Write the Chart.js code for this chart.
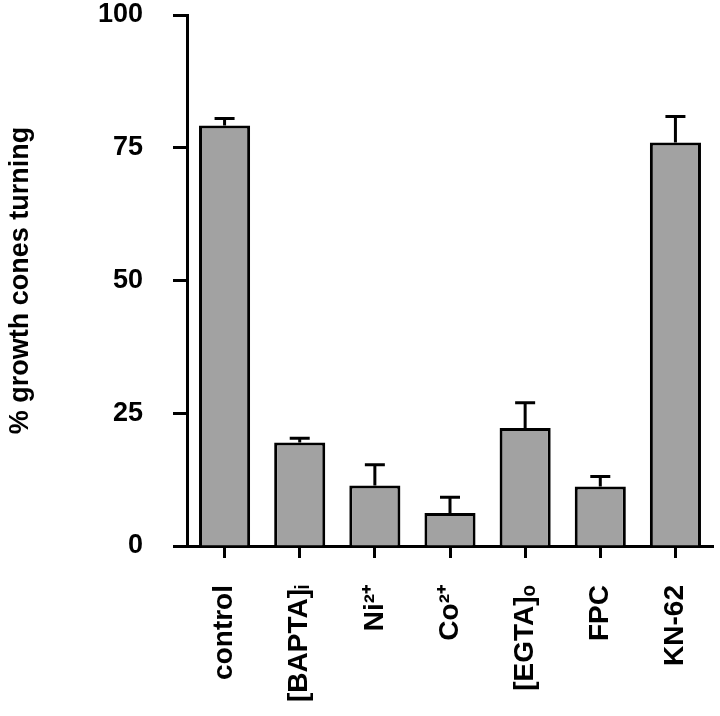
<!DOCTYPE html>
<html>
<head>
<meta charset="utf-8">
<title>Growth cone turning</title>
<script src="https://cdn.jsdelivr.net/npm/chart.js@4/dist/chart.umd.min.js"></script>
<style>
    html, body { margin: 0; padding: 0; background: #ffffff; }
    #chartBox { width: 720px; height: 716px; }
</style>
</head>
<body>
<div id="chartBox"><canvas id="turningChart" width="720" height="716"></canvas></div>
<script>

    // Conditions along the x axis (sub/superscripts as unicode characters)
    var conditions = ['control', '[BAPTA]\u1D62', 'Ni\u00B2\u207A', 'Co\u00B2\u207A', '[EGTA]\u2092', 'FPC', 'KN-62'];

    // Mean % of growth cones turning
    var turningMeans = [79.2, 19.5, 11.4, 6.2, 22.2, 11.2, 76.0];

    // Upper error (SEM) for each bar
    var turningErrors = [1.3, 0.8, 3.9, 3.0, 4.8, 1.9, 4.9];

    var yTicks = [0, 25, 50, 75, 100];

    var fontFamily = '"Liberation Sans", Arial, Helvetica, sans-serif';

    /**
     * Draws the one-sided error bars (stem + cap) above each bar.
     */
    var errorBarPlugin = {
        id: 'errorBars',
        afterDatasetsDraw: function (chart) {
            var ctx = chart.ctx;
            var yScale = chart.scales.y;
            var meta = chart.getDatasetMeta(0);

            ctx.save();
            ctx.strokeStyle = '#000000';
            ctx.lineWidth = 3;
            ctx.lineCap = 'butt';

            meta.data.forEach(function (bar, i) {
                var x = bar.x;
                var yTop = yScale.getPixelForValue(turningMeans[i]);
                var yErr = yScale.getPixelForValue(turningMeans[i] + turningErrors[i]);

                ctx.beginPath();
                ctx.moveTo(x, yTop);
                ctx.lineTo(x, yErr);
                ctx.moveTo(x - 10, yErr);
                ctx.lineTo(x + 10, yErr);
                ctx.stroke();
            });

            ctx.restore();
        }
    };

    var config = {
        type: 'bar',
        data: {
            labels: conditions,
            datasets: [
                {
                    data: turningMeans,
                    backgroundColor: '#a2a2a2',
                    borderColor: '#000000',
                    borderWidth: 3,
                    categoryPercentage: 1.0,
                    barPercentage: 0.68
                }
            ]
        },
        options: {
            responsive: false,
            animation: false,
            devicePixelRatio: 1,
            layout: {
                padding: { top: 15, right: 7, bottom: 0, left: 0 }
            },
            plugins: {
                legend: { display: false },
                title: { display: false },
                tooltip: { enabled: false }
            },
            scales: {
                x: {
                    offset: true,
                    // fixed axis height; drop the automatic label padding
                    afterFit: function (scale) {
                        scale.height = 170;
                        scale.paddingLeft = 0;
                        scale.paddingRight = 0;
                    },
                    border: { display: true, color: '#000000', width: 3 },
                    grid: {
                        offset: false,
                        drawOnChartArea: false,
                        drawTicks: true,
                        tickLength: 12,
                        tickWidth: 3,
                        color: '#000000'
                    },
                    ticks: {
                        minRotation: 90,
                        maxRotation: 90,
                        autoSkip: false,
                        padding: 27,
                        color: '#000000',
                        font: { family: fontFamily, size: 28, weight: 'bold' }
                    }
                },
                y: {
                    min: 0,
                    max: 100,
                    afterFit: function (scale) {
                        scale.width = 187;
                        scale.paddingTop = 0;
                        scale.paddingBottom = 0;
                    },
                    afterBuildTicks: function (scale) {
                        scale.ticks = yTicks.map(function (v) { return { value: v }; });
                    },
                    border: { display: true, color: '#000000', width: 3 },
                    grid: {
                        drawOnChartArea: false,
                        drawTicks: true,
                        tickLength: 14,
                        tickWidth: 3,
                        color: '#000000'
                    },
                    ticks: {
                        padding: 30,
                        color: '#000000',
                        font: { family: fontFamily, size: 27, weight: 'bold', lineHeight: 1 }
                    },
                    title: {
                        display: true,
                        text: '% growth cones turning',
                        color: '#000000',
                        padding: { top: 4, bottom: 0 },
                        font: { family: fontFamily, size: 27, weight: 'bold' }
                    }
                }
            }
        },
        plugins: [errorBarPlugin]
    };

    var ctx = document.getElementById('turningChart').getContext('2d');
    var turningChart = new Chart(ctx, config);

</script>
</body>
</html>
